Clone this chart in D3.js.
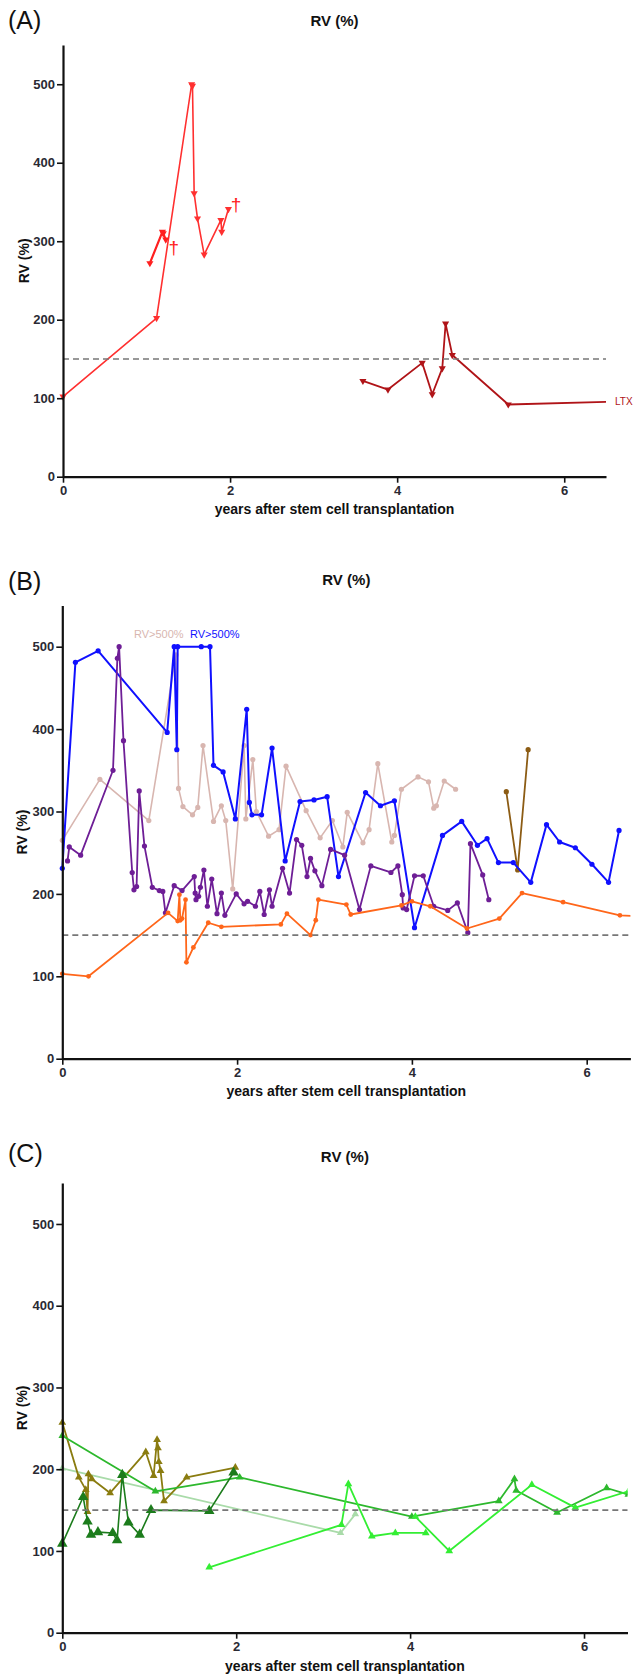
<!DOCTYPE html>
<html>
<head>
<meta charset="utf-8">
<script src="https://cdn.jsdelivr.net/npm/d3@7"></script>
<style>
  body { margin: 0; background: #fff; }
  svg { display: block; font-family: "Liberation Sans", Arial, sans-serif; }
</style>
</head>
<body>
<div id="viz"></div>
<script>
// ---- shared axis values ----
var xDomain = [0, 6.5];
var yDomain = [0, 550];
var xTicks = [0, 2, 4, 6];
var yTicks = [0, 100, 200, 300, 400, 500];
var threshold = 150;
var titleText = "RV (%)";
var xLabelText = "years after stem cell transplantation";
var yLabelText = "RV (%)";

// ---- panel A: [years, RV %] ----
var aRedMain = [[0,102],[1.12,202],[1.54,500],[1.55,498],[1.57,361],[1.61,329],[1.69,283],[1.89,327],[1.90,312],[1.98,341]];
var aRedShort = [[1.04,272],[1.19,312],[1.20,310],[1.23,302]];
var aDarkRed = [[3.59,122],[3.89,111],[4.30,145],[4.42,105],[4.54,138],[4.58,195],[4.66,155],[5.33,92],[6.7,96]];
var aDeaths = [[1.325,294],[2.07,348]];

// ---- panel B ----
var bBlue = [[0,231],[0.15,481],[0.41,495],[1.20,396],[1.28,500],[1.31,375],[1.32,500],[1.59,500],[1.69,500],[1.73,356],[1.84,348],[1.98,291],[2.11,424],[2.14,311],[2.17,296],[2.28,296],[2.40,377],[2.55,240],[2.72,312],[2.88,314],[3.03,318],[3.16,221],[3.47,323],[3.64,307],[3.80,313],[4.03,159],[4.35,271],[4.57,288],[4.75,259],[4.86,267],[4.99,238],[5.16,238],[5.36,214],[5.54,284],[5.69,263],[5.87,256],[6.06,236],[6.25,214],[6.37,277]];
var bPink = [[0,265],[0.43,339],[0.99,289],[1.30,490],[1.33,328],[1.38,306],[1.49,296],[1.55,305],[1.61,380],[1.73,288],[1.82,307],[1.87,289],[1.95,206],[2.08,380],[2.10,291],[2.18,363],[2.22,300],[2.36,270],[2.48,278],[2.56,355],[2.79,301],[2.95,268],[3.09,289],[3.21,257],[3.26,299],[3.44,262],[3.51,278],[3.61,358],[3.77,263],[3.80,271],[3.88,327],[4.07,342],[4.19,336],[4.25,304],[4.28,307],[4.37,337],[4.50,327]];
var bPurple = [[0.06,240],[0.08,257],[0.21,247],[0.58,350],[0.63,486],[0.65,500],[0.70,386],[0.80,226],[0.82,205],[0.85,209],[0.88,325],[0.94,258],[1.03,208],[1.11,204],[1.15,203],[1.18,177],[1.28,210],[1.37,204],[1.51,221],[1.52,201],[1.53,193],[1.56,197],[1.58,208],[1.62,229],[1.66,185],[1.71,218],[1.77,176],[1.82,201],[1.86,174],[1.99,200],[2.08,188],[2.12,191],[2.21,185],[2.26,203],[2.31,175],[2.37,205],[2.40,185],[2.52,231],[2.60,201],[2.68,266],[2.74,259],[2.80,221],[2.84,243],[2.89,228],[2.97,210],[3.07,254],[3.23,247],[3.40,181],[3.53,234],[3.76,226],[3.84,234],[3.89,199],[3.90,183],[3.94,181],[4.03,222],[4.13,222],[4.25,185],[4.41,180],[4.52,189],[4.64,153],[4.67,261],[4.81,223],[4.88,193]];
var bOrange = [[0,103],[0.30,100],[1.21,177],[1.32,167],[1.34,199],[1.35,168],[1.37,170],[1.41,193],[1.42,117],[1.50,135],[1.67,165],[1.82,160],[2.50,163],[2.57,176],[2.84,150],[2.90,168],[2.93,193],[3.25,187],[3.30,175],[3.88,186],[4.00,191],[4.21,185],[4.63,158],[5.00,170],[5.26,201],[5.73,190],[6.38,174],[6.6,173]];
var bBrown = [[5.08,324],[5.21,229],[5.33,375]];

// ---- panel C ----
var cOlive = [[0,257],[0.19,190],[0.27,175],[0.29,148],[0.30,194],[0.34,188],[0.55,171],[0.96,221],[1.05,192],[1.09,236],[1.10,226],[1.11,209],[1.13,198],[1.17,161],[1.43,190],[1.99,202]];
var cDarkGreen = [[0,109],[0.24,166],[0.29,136],[0.33,120],[0.41,123],[0.58,122],[0.63,113],[0.69,193],[0.76,135],[0.89,120],[1.02,150],[1.69,149],[1.97,196]];
var cGreen = [[0,241],[1.07,173],[2.04,190],[4.02,142],[5.02,161],[5.20,188],[5.22,174],[5.69,147],[6.26,177],[6.51,169]];
var cLimeEarly = [[1.69,80],[3.21,132],[3.29,182],[3.56,118],[3.83,122],[4.18,122]];
var cLimeLate = [[4.06,142],[4.45,100],[5.40,181],[5.90,153],[6.51,173]];
var cPale = [[0,201],[3.20,122],[3.37,145]];

var width = 633, height = 1674;

var svg = d3.select('#viz')
  .append('svg')
  .attr('width', width)
  .attr('height', height);

var panels = [
  { label: '(A)', labelY: 29, titleY: 26, xLabelY: 514, yLabelX: 24,
    x0: 63, x1: 606, yZero: 476.7, yTop: 45,
    series: [
      { data: aRedMain, color: '#ff3030', w: 1.6, shape: 'down', size: 22 },
      { data: aRedShort, color: '#ff2020', w: 2.2, shape: 'down', size: 22 },
      { data: aDarkRed, color: '#b01418', w: 1.8, shape: 'down', size: 22 }
    ] },
  { label: '(B)', labelY: 590, titleY: 585, xLabelY: 1096, yLabelX: 22,
    x0: 62.3, x1: 630.4, yZero: 1058.7, yTop: 605.5,
    series: [
      { data: bPink, color: '#d8b6b0', w: 1.6, shape: 'circle', size: 2.6 },
      { data: bBrown, color: '#8c5c14', w: 1.8, shape: 'circle', size: 2.6 },
      { data: bBlue, color: '#1010ff', w: 2, shape: 'circle', size: 2.6 },
      { data: bPurple, color: '#6e1e96', w: 1.8, shape: 'circle', size: 2.6 },
      { data: bOrange, color: '#ff661a', w: 1.8, shape: 'circle', size: 2.4 }
    ] },
  { label: '(C)', labelY: 1162, titleY: 1162, xLabelY: 1671, yLabelX: 22,
    x0: 62.3, x1: 627.5, yZero: 1632.7, yTop: 1183.1,
    series: [
      { data: cPale, color: '#a9dba9', w: 1.8, shape: 'up', size: 24 },
      { data: cOlive, color: '#8a7c10', w: 1.8, shape: 'up', size: 26 },
      { data: cGreen, color: '#2db82d', w: 1.8, shape: 'up', size: 26 },
      { data: cLimeEarly, color: '#33ee33', w: 1.8, shape: 'up', size: 26 },
      { data: cLimeLate, color: '#33ee33', w: 1.8, shape: 'up', size: 26 },
      { data: cDarkGreen, color: '#1c7c1c', w: 1.6, shape: 'up', size: 48 }
    ] }
];

var tickFont = '"Liberation Sans Narrow", "Liberation Sans", Arial, sans-serif';

panels.forEach(function(p, i) {
  var x = d3.scaleLinear().domain(xDomain).range([p.x0, p.x1]);
  var y = d3.scaleLinear().domain(yDomain).range([p.yZero, p.yTop]);
  var g = svg.append('g');

  g.append('clipPath')
    .attr('id', 'clip' + i)
    .append('rect')
    .attr('x', x(0) - 8)
    .attr('y', y(550) - 8)
    .attr('width', x(6.5) - x(0) + 8)
    .attr('height', y(0) - y(550) + 8);

  var plot = g.append('g').attr('clip-path', 'url(#clip' + i + ')');
  var line = d3.line().x(d => x(d[0])).y(d => y(d[1]));

  p.series.forEach(function(s) {
    plot.append('path')
      .datum(s.data)
      .attr('d', line)
      .attr('fill', 'none')
      .attr('stroke', s.color)
      .attr('stroke-width', s.w)
      .attr('stroke-linejoin', 'round');

    if (s.shape === 'circle') {
      plot.append('g')
        .selectAll('circle')
        .data(s.data)
        .join('circle')
        .attr('cx', d => x(d[0]))
        .attr('cy', d => y(d[1]))
        .attr('r', s.size)
        .attr('fill', s.color);
    } else {
      var sym = d3.symbol().type(d3.symbolTriangle).size(s.size);
      var rot = s.shape === 'down' ? 180 : 0;
      plot.append('g')
        .selectAll('path')
        .data(s.data)
        .join('path')
        .attr('d', sym)
        .attr('transform', d => 'translate(' + x(d[0]) + ',' + y(d[1]) + ') rotate(' + rot + ')')
        .attr('fill', s.color);
    }
  });

  // reference line at 150 %
  g.append('line')
    .attr('x1', x(0)).attr('x2', x(6.5))
    .attr('y1', y(threshold)).attr('y2', y(threshold))
    .attr('stroke', '#777')
    .attr('stroke-width', 1.6)
    .attr('stroke-dasharray', '6,4');

  // axes
  var yAxis = g.append('g')
    .attr('transform', 'translate(' + x(0) + ',0)')
    .call(d3.axisLeft(y).tickValues(yTicks).tickFormat(d3.format('d')).tickSize(6).tickSizeOuter(0).tickPadding(2));
  var xAxis = g.append('g')
    .attr('transform', 'translate(0,' + y(0) + ')')
    .call(d3.axisBottom(x).tickValues(xTicks).tickFormat(d3.format('d')).tickSize(6).tickSizeOuter(0).tickPadding(3));
  [yAxis, xAxis].forEach(function(ax) {
    ax.select('.domain').attr('stroke', '#111').attr('stroke-width', 2.2);
    ax.selectAll('.tick line').attr('stroke', '#111').attr('stroke-width', 1.6);
    ax.selectAll('.tick text')
      .attr('fill', '#2a2a33')
      .style('font-size', '13px')
      .style('font-weight', 'bold')
      .style('font-family', tickFont);
  });

  // texts
  g.append('text')
    .attr('x', 8).attr('y', p.labelY)
    .style('font-size', '25px')
    .attr('fill', '#111')
    .text(p.label);
  g.append('text')
    .attr('x', (x(0) + x(6.5)) / 2).attr('y', p.titleY)
    .attr('text-anchor', 'middle')
    .style('font-size', '15px').style('font-weight', 'bold')
    .attr('fill', '#111')
    .text(titleText);
  g.append('text')
    .attr('x', (x(0) + x(6.5)) / 2).attr('y', p.xLabelY)
    .attr('text-anchor', 'middle')
    .style('font-size', '14px').style('font-weight', 'bold')
    .attr('fill', '#111')
    .text(xLabelText);
  g.append('text')
    .attr('transform', 'translate(' + (p.yLabelX + 5) + ',' + ((y(0) + y(550)) / 2) + ') rotate(-90)')
    .attr('text-anchor', 'middle')
    .style('font-size', '14px').style('font-weight', 'bold')
    .attr('fill', '#111')
    .text(yLabelText);

  // panel specific annotations
  if (i === 0) {
    g.selectAll('.dagger')
      .data(aDeaths)
      .join('text')
      .attr('class', 'dagger')
      .attr('x', d => x(d[0]))
      .attr('y', d => y(d[1]))
      .attr('dy', '0.4em')
      .attr('text-anchor', 'middle')
      .style('font-size', '19px')
      .attr('fill', '#ff2020')
      .text('†');
    g.append('text')
      .attr('x', x(6.5) + 9).attr('y', y(96) + 4)
      .style('font-size', '10px')
      .attr('fill', '#b01418')
      .text('LTX');
  }
  if (i === 1) {
    g.append('text')
      .attr('x', 134).attr('y', y(500) - 9)
      .style('font-size', '11px')
      .attr('fill', '#d8b6b0')
      .text('RV>500%');
    g.append('text')
      .attr('x', 190).attr('y', y(500) - 9)
      .style('font-size', '11px')
      .attr('fill', '#1010ff')
      .text('RV>500%');
  }
});
</script>
</body>
</html>
